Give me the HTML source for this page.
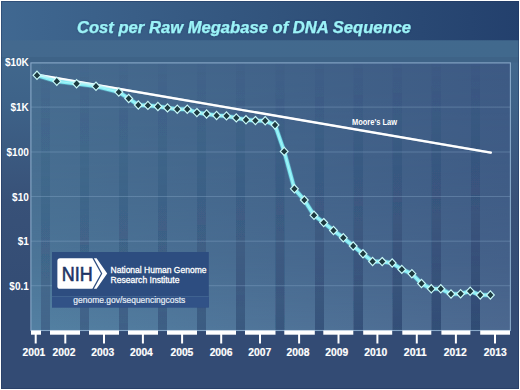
<!DOCTYPE html>
<html><head><meta charset="utf-8">
<style>
html,body{margin:0;padding:0;width:520px;height:390px;overflow:hidden;background:#334b74;}
svg{display:block;}
text{font-family:"Liberation Sans",sans-serif;}
</style></head>
<body>
<svg width="520" height="390" viewBox="0 0 520 390">
<defs>
  <linearGradient id="hdr" x1="0" y1="0" x2="520" y2="0" gradientUnits="userSpaceOnUse">
    <stop offset="0" stop-color="#406891"/>
    <stop offset="0.62" stop-color="#2f5079"/>
    <stop offset="1" stop-color="#23406d"/>
  </linearGradient>
  <linearGradient id="leftm" x1="0" y1="40" x2="0" y2="300" gradientUnits="userSpaceOnUse">
    <stop offset="0" stop-color="#42698e"/>
    <stop offset="0.23" stop-color="#3e6389"/>
    <stop offset="0.62" stop-color="#385178"/>
    <stop offset="1" stop-color="#334c74"/>
  </linearGradient>
  <linearGradient id="band" x1="0" y1="0" x2="520" y2="0" gradientUnits="userSpaceOnUse">
    <stop offset="0" stop-color="#43698e"/>
    <stop offset="1" stop-color="#41698d"/>
  </linearGradient>
  <linearGradient id="plotTop" x1="31" y1="0" x2="510" y2="0" gradientUnits="userSpaceOnUse">
    <stop offset="0" stop-color="#466c8f"/>
    <stop offset="1" stop-color="#3d5a84"/>
  </linearGradient>
  <linearGradient id="plotBot" x1="31" y1="0" x2="510" y2="0" gradientUnits="userSpaceOnUse">
    <stop offset="0" stop-color="#5380a2"/>
    <stop offset="1" stop-color="#4c688f"/>
  </linearGradient>
  <linearGradient id="vmaskG" x1="0" y1="62" x2="0" y2="330" gradientUnits="userSpaceOnUse">
    <stop offset="0" stop-color="#000"/>
    <stop offset="0.45" stop-color="#2a2a2a"/>
    <stop offset="0.75" stop-color="#777"/>
    <stop offset="1" stop-color="#fff"/>
  </linearGradient>
  <mask id="vmask" maskUnits="userSpaceOnUse" x="0" y="0" width="520" height="390">
    <rect x="31" y="62" width="479" height="269" fill="url(#vmaskG)"/>
  </mask>
  <linearGradient id="stripeG" x1="0" y1="62" x2="0" y2="330" gradientUnits="userSpaceOnUse">
    <stop offset="0" stop-color="#1a2f5a" stop-opacity="0.02"/>
    <stop offset="0.5" stop-color="#1a2f5a" stop-opacity="0.2"/>
    <stop offset="0.8" stop-color="#1a2f5a" stop-opacity="0.38"/>
    <stop offset="1" stop-color="#1a2f5a" stop-opacity="0.52"/>
  </linearGradient>
  <filter id="sblur" x="-5%" y="0" width="110%" height="100%"><feGaussianBlur stdDeviation="0.6 0"/></filter>
  <filter id="tglow" x="-5%" y="-30%" width="110%" height="160%">
    <feGaussianBlur in="SourceAlpha" stdDeviation="1.3" result="b"/>
    <feFlood flood-color="#1d3560" flood-opacity="0.55"/>
    <feComposite in2="b" operator="in" result="s"/>
    <feMerge><feMergeNode in="s"/><feMergeNode in="SourceGraphic"/></feMerge>
  </filter>
  <filter id="lglow" x="-5%" y="-5%" width="110%" height="110%"><feGaussianBlur stdDeviation="0.7"/></filter>
</defs>

<!-- outer background -->
<rect x="0" y="0" width="520" height="390" fill="#334b74"/>
<rect x="0" y="40" width="520" height="300" fill="url(#leftm)"/>
<rect x="0" y="330" width="520" height="60" fill="#334b74"/>
<!-- header band -->
<rect x="0" y="0" width="520" height="40.5" fill="url(#hdr)"/>
<!-- lighter band -->
<rect x="0" y="40.5" width="520" height="16.5" fill="url(#band)"/>
<rect x="0" y="57" width="520" height="5.5" fill="#3e6387"/>

<!-- plot area bilinear -->
<rect x="31" y="62.5" width="479" height="268" fill="url(#plotTop)"/>
<rect x="31" y="62.5" width="479" height="268" fill="url(#plotBot)" mask="url(#vmask)"/>
<!-- dark stripes in gaps -->
<g fill="url(#stripeG)" filter="url(#sblur)">
  <rect x="41" y="63" width="9" height="267.5" opacity="0.60"/>
  <rect x="80" y="63" width="9" height="267.5" opacity="0.64"/>
  <rect x="119" y="63" width="9" height="267.5" opacity="0.67"/>
  <rect x="158" y="63" width="9" height="267.5" opacity="0.71"/>
  <rect x="197" y="63" width="9" height="267.5" opacity="0.75"/>
  <rect x="236" y="63" width="9" height="267.5" opacity="0.78"/>
  <rect x="275.5" y="63" width="9" height="267.5" opacity="0.82"/>
  <rect x="315" y="63" width="9" height="267.5" opacity="0.85"/>
  <rect x="353.5" y="63" width="9.5" height="267.5" opacity="0.89"/>
  <rect x="392.5" y="63" width="9.5" height="267.5" opacity="0.93"/>
  <rect x="431.5" y="63" width="9.5" height="267.5" opacity="0.96"/>
  <rect x="471" y="63" width="9" height="267.5" opacity="1.00"/>
</g>

<!-- gridlines -->
<g stroke="#8fb0d0" stroke-width="1" opacity="0.35">
  <line x1="31" y1="107.1" x2="510" y2="107.1"/>
  <line x1="31" y1="152" x2="510" y2="152"/>
  <line x1="31" y1="196.5" x2="510" y2="196.5"/>
  <line x1="31" y1="241.2" x2="510" y2="241.2"/>
  <line x1="31" y1="285.7" x2="510" y2="285.7"/>
</g>
<!-- plot border -->
<rect x="30.9" y="62.9" width="479.5" height="267.6" fill="none" stroke="#88a8c8" stroke-width="1.1"/>

<!-- x axis white segments -->
<g fill="#ffffff">
  <rect x="31" y="330.5" width="10" height="4.2"/>
  <rect x="50" y="330.5" width="30" height="4.2"/>
  <rect x="89" y="330.5" width="30" height="4.2"/>
  <rect x="128" y="330.5" width="30" height="4.2"/>
  <rect x="167" y="330.5" width="30" height="4.2"/>
  <rect x="206" y="330.5" width="30" height="4.2"/>
  <rect x="245" y="330.5" width="30.5" height="4.2"/>
  <rect x="284.3" y="330.5" width="30.5" height="4.2"/>
  <rect x="323.3" y="330.5" width="30" height="4.2"/>
  <rect x="363.2" y="330.5" width="29" height="4.2"/>
  <rect x="402.3" y="330.5" width="29" height="4.2"/>
  <rect x="441.4" y="330.5" width="29" height="4.2"/>
  <rect x="480.2" y="330.5" width="29.8" height="4.2"/>
</g>
<g stroke="#ffffff" stroke-width="2">
  <line x1="35.7" y1="334" x2="35.7" y2="343.5"/>
  <line x1="65.3" y1="334" x2="65.3" y2="343.5"/>
  <line x1="104" y1="334" x2="104" y2="343.5"/>
  <line x1="142.9" y1="334" x2="142.9" y2="343.5"/>
  <line x1="182.1" y1="334" x2="182.1" y2="343.5"/>
  <line x1="221.2" y1="334" x2="221.2" y2="343.5"/>
  <line x1="260" y1="334" x2="260" y2="343.5"/>
  <line x1="299.1" y1="334" x2="299.1" y2="343.5"/>
  <line x1="338.5" y1="334" x2="338.5" y2="343.5"/>
  <line x1="377.4" y1="334" x2="377.4" y2="343.5"/>
  <line x1="416.8" y1="334" x2="416.8" y2="343.5"/>
  <line x1="455.9" y1="334" x2="455.9" y2="343.5"/>
  <line x1="495" y1="334" x2="495" y2="343.5"/>
</g>

<!-- year labels -->
<g fill="#ffffff" stroke="#ffffff" stroke-width="0.2" font-weight="bold" font-size="11" text-anchor="middle">
  <text x="33.9" y="356" textLength="22.9" lengthAdjust="spacingAndGlyphs">2001</text>
  <text x="64.0" y="356" textLength="22.9" lengthAdjust="spacingAndGlyphs">2002</text>
  <text x="102.7" y="356" textLength="22.9" lengthAdjust="spacingAndGlyphs">2003</text>
  <text x="141.4" y="356" textLength="22.9" lengthAdjust="spacingAndGlyphs">2004</text>
  <text x="181.9" y="356" textLength="22.9" lengthAdjust="spacingAndGlyphs">2005</text>
  <text x="221.1" y="356" textLength="22.9" lengthAdjust="spacingAndGlyphs">2006</text>
  <text x="259.8" y="356" textLength="22.9" lengthAdjust="spacingAndGlyphs">2007</text>
  <text x="298.0" y="356" textLength="22.9" lengthAdjust="spacingAndGlyphs">2008</text>
  <text x="336.8" y="356" textLength="22.9" lengthAdjust="spacingAndGlyphs">2009</text>
  <text x="375.7" y="356" textLength="22.9" lengthAdjust="spacingAndGlyphs">2010</text>
  <text x="415.3" y="356" textLength="22.9" lengthAdjust="spacingAndGlyphs">2011</text>
  <text x="455.3" y="356" textLength="22.9" lengthAdjust="spacingAndGlyphs">2012</text>
  <text x="495.2" y="356" textLength="22.9" lengthAdjust="spacingAndGlyphs">2013</text>
</g>

<!-- y labels -->
<g fill="#ffffff" font-weight="bold" font-size="10" text-anchor="end">
  <text x="28.8" y="66.3">$10K</text>
  <text x="28.8" y="111">$1K</text>
  <text x="28.8" y="155.8">$100</text>
  <text x="28.8" y="200.5">$10</text>
  <text x="28.8" y="245">$1</text>
  <text x="28.8" y="289.8">$0.1</text>
</g>

<!-- title -->
<text x="77" y="33.2" fill="#9cf3f8" stroke="#96f0f6" stroke-width="0.25" filter="url(#tglow)" font-size="16.6" font-weight="bold" font-style="italic">Cost per Raw Megabase of DNA Sequence</text>

<!-- data line -->
<line x1="37" y1="74.8" x2="490.8" y2="152.6" stroke="#ffffff" stroke-width="2.4" stroke-linecap="round"/>
<path fill="none" stroke="#6cdcea" stroke-opacity="0.35" stroke-width="5" stroke-linejoin="round" stroke-linecap="round" filter="url(#lglow)" d="M37,75.3 L56.8,81.3 L76.6,83.7 L96,86.3 L118.8,92.1 L128.7,98.5 L138.3,105 L147.9,105.4 L157.9,106.5 L167.5,107.9 L177.3,109.2 L187.3,109.2 L196.9,112.6 L206.6,114 L216.6,115.5 L226.5,115.9 L236.3,117.9 L246,119.8 L255.4,120.6 L265.2,120.8 L275,125 L284.2,151.4 L294.4,188.8 L304.3,200 L314,215.3 L323.7,222.6 L333.5,230.5 L343.3,237.8 L353.2,246 L363,253.8 L372.6,261.5 L382.2,261.6 L392.2,263 L401.8,269.4 L411.9,273.7 L421.5,283.5 L431.3,288.8 L440.8,288.8 L451,294 L460.6,293.7 L470.2,291.2 L480.2,295 L490.4,295"/>
<path fill="none" stroke="#82ecf4" stroke-width="3.6" stroke-linejoin="round" stroke-linecap="round" d="M37,75.3 L56.8,81.3 L76.6,83.7 L96,86.3 L118.8,92.1 L128.7,98.5 L138.3,105 L147.9,105.4 L157.9,106.5 L167.5,107.9 L177.3,109.2 L187.3,109.2 L196.9,112.6 L206.6,114 L216.6,115.5 L226.5,115.9 L236.3,117.9 L246,119.8 L255.4,120.6 L265.2,120.8 L275,125 L284.2,151.4 L294.4,188.8 L304.3,200 L314,215.3 L323.7,222.6 L333.5,230.5 L343.3,237.8 L353.2,246 L363,253.8 L372.6,261.5 L382.2,261.6 L392.2,263 L401.8,269.4 L411.9,273.7 L421.5,283.5 L431.3,288.8 L440.8,288.8 L451,294 L460.6,293.7 L470.2,291.2 L480.2,295 L490.4,295"/>
<path fill="none" stroke="#a4f4f8" stroke-width="1.1" stroke-linejoin="round" stroke-linecap="round" d="M37,75.3 L56.8,81.3 L76.6,83.7 L96,86.3 L118.8,92.1 L128.7,98.5 L138.3,105 L147.9,105.4 L157.9,106.5 L167.5,107.9 L177.3,109.2 L187.3,109.2 L196.9,112.6 L206.6,114 L216.6,115.5 L226.5,115.9 L236.3,117.9 L246,119.8 L255.4,120.6 L265.2,120.8 L275,125 L284.2,151.4 L294.4,188.8 L304.3,200 L314,215.3 L323.7,222.6 L333.5,230.5 L343.3,237.8 L353.2,246 L363,253.8 L372.6,261.5 L382.2,261.6 L392.2,263 L401.8,269.4 L411.9,273.7 L421.5,283.5 L431.3,288.8 L440.8,288.8 L451,294 L460.6,293.7 L470.2,291.2 L480.2,295 L490.4,295"/>
<line x1="37" y1="74.8" x2="490.8" y2="152.6" stroke="#ffffff" stroke-width="2.2" stroke-linecap="round" stroke-opacity="0.45"/>
<text x="352" y="124.6" fill="#ffffff" font-size="8.9" font-weight="bold" textLength="45" lengthAdjust="spacingAndGlyphs">Moore's Law</text>

<g fill="#1d3a40" stroke="#c8f8f8" stroke-width="1.2"><path d="M37,71.2 L40.9,75.3 L37,79.4 L33.1,75.3 Z"/><path d="M56.8,77.2 L60.7,81.3 L56.8,85.4 L52.9,81.3 Z"/><path d="M76.6,79.6 L80.5,83.7 L76.6,87.8 L72.7,83.7 Z"/><path d="M96,82.2 L99.9,86.3 L96,90.4 L92.1,86.3 Z"/><path d="M118.8,88 L122.7,92.1 L118.8,96.2 L114.9,92.1 Z"/><path d="M128.7,94.4 L132.6,98.5 L128.7,102.6 L124.8,98.5 Z"/><path d="M138.3,100.9 L142.2,105 L138.3,109.1 L134.4,105 Z"/><path d="M147.9,101.3 L151.8,105.4 L147.9,109.5 L144,105.4 Z"/><path d="M157.9,102.4 L161.8,106.5 L157.9,110.6 L154,106.5 Z"/><path d="M167.5,103.8 L171.4,107.9 L167.5,112 L163.6,107.9 Z"/><path d="M177.3,105.1 L181.2,109.2 L177.3,113.3 L173.4,109.2 Z"/><path d="M187.3,105.1 L191.2,109.2 L187.3,113.3 L183.4,109.2 Z"/><path d="M196.9,108.5 L200.8,112.6 L196.9,116.7 L193,112.6 Z"/><path d="M206.6,109.9 L210.5,114 L206.6,118.1 L202.7,114 Z"/><path d="M216.6,111.4 L220.5,115.5 L216.6,119.6 L212.7,115.5 Z"/><path d="M226.5,111.8 L230.4,115.9 L226.5,120 L222.6,115.9 Z"/><path d="M236.3,113.8 L240.2,117.9 L236.3,122 L232.4,117.9 Z"/><path d="M246,115.7 L249.9,119.8 L246,123.9 L242.1,119.8 Z"/><path d="M255.4,116.5 L259.3,120.6 L255.4,124.7 L251.5,120.6 Z"/><path d="M265.2,116.7 L269.1,120.8 L265.2,124.9 L261.3,120.8 Z"/><path d="M275,120.9 L278.9,125 L275,129.1 L271.1,125 Z"/><path d="M284.2,147.3 L288.1,151.4 L284.2,155.5 L280.3,151.4 Z"/><path d="M294.4,184.7 L298.3,188.8 L294.4,192.9 L290.5,188.8 Z"/><path d="M304.3,195.9 L308.2,200 L304.3,204.1 L300.4,200 Z"/><path d="M314,211.2 L317.9,215.3 L314,219.4 L310.1,215.3 Z"/><path d="M323.7,218.5 L327.6,222.6 L323.7,226.7 L319.8,222.6 Z"/><path d="M333.5,226.4 L337.4,230.5 L333.5,234.6 L329.6,230.5 Z"/><path d="M343.3,233.7 L347.2,237.8 L343.3,241.9 L339.4,237.8 Z"/><path d="M353.2,241.9 L357.1,246 L353.2,250.1 L349.3,246 Z"/><path d="M363,249.7 L366.9,253.8 L363,257.9 L359.1,253.8 Z"/><path d="M372.6,257.4 L376.5,261.5 L372.6,265.6 L368.7,261.5 Z"/><path d="M382.2,257.5 L386.1,261.6 L382.2,265.7 L378.3,261.6 Z"/><path d="M392.2,258.9 L396.1,263 L392.2,267.1 L388.3,263 Z"/><path d="M401.8,265.3 L405.7,269.4 L401.8,273.5 L397.9,269.4 Z"/><path d="M411.9,269.6 L415.8,273.7 L411.9,277.8 L408,273.7 Z"/><path d="M421.5,279.4 L425.4,283.5 L421.5,287.6 L417.6,283.5 Z"/><path d="M431.3,284.7 L435.2,288.8 L431.3,292.9 L427.4,288.8 Z"/><path d="M440.8,284.7 L444.7,288.8 L440.8,292.9 L436.9,288.8 Z"/><path d="M451,289.9 L454.9,294 L451,298.1 L447.1,294 Z"/><path d="M460.6,289.6 L464.5,293.7 L460.6,297.8 L456.7,293.7 Z"/><path d="M470.2,287.1 L474.1,291.2 L470.2,295.3 L466.3,291.2 Z"/><path d="M480.2,290.9 L484.1,295 L480.2,299.1 L476.3,295 Z"/><path d="M490.4,290.9 L494.3,295 L490.4,299.1 L486.5,295 Z"/></g>

<!-- NIH box -->
<rect x="52" y="252" width="156.8" height="55.4" fill="#2d4d80"/>
<rect x="52" y="296" width="156.8" height="11.4" fill="#315287"/>
<line x1="52" y1="296.5" x2="208.8" y2="296.5" stroke="#3f6290" stroke-width="1"/>
<path d="M60,258.3 L92.4,258.3 L100.9,273.6 L92.4,288.8 L60,288.8 Q57.4,288.8 57.4,286.2 L57.4,260.9 Q57.4,258.3 60,258.3 Z" fill="#ffffff"/>
<path d="M93.9,258.3 L96.6,258.3 L107.2,273.6 L96.6,288.8 L93.9,288.8 L102.3,273.6 Z" fill="#ffffff"/>
<text x="61.7" y="281" fill="#1e3465" stroke="#1e3465" stroke-width="0.6" font-size="19.6" textLength="30.9" lengthAdjust="spacingAndGlyphs">NIH</text>
<text x="110.5" y="272.5" fill="#ffffff" font-size="9.3" stroke="#ffffff" stroke-width="0.3" textLength="96" lengthAdjust="spacingAndGlyphs">National Human Genome</text>
<text x="110.5" y="283.3" fill="#ffffff" font-size="9.3" stroke="#ffffff" stroke-width="0.3" textLength="69" lengthAdjust="spacingAndGlyphs">Research Institute</text>
<text x="73.3" y="303.3" fill="#e6eef6" stroke="#e6eef6" stroke-width="0.2" font-size="8.8" textLength="112" lengthAdjust="spacingAndGlyphs">genome.gov/sequencingcosts</text>

<!-- borders -->
<rect x="1.5" y="1.5" width="517" height="387" fill="none" stroke="#1e3560" stroke-width="1" opacity="0.45"/>
<rect x="0.5" y="0.5" width="519" height="389" fill="none" stroke="#ffffff" stroke-width="1"/>
</svg>
</body></html>
